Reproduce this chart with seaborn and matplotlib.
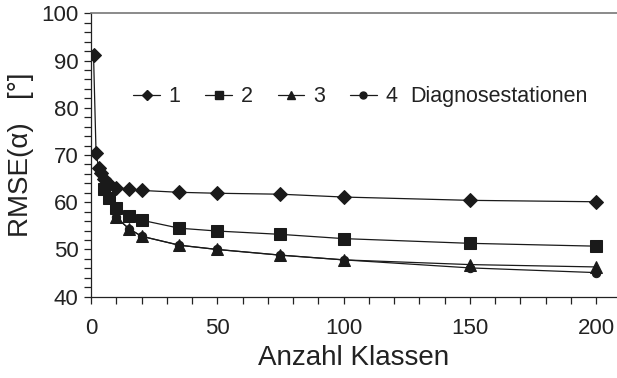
import matplotlib
matplotlib.use("Agg")
import matplotlib.pyplot as plt
import seaborn as sns
import numpy as np
from matplotlib.lines import Line2D
from matplotlib.ticker import MultipleLocator

# Data
x1 = [1, 2, 3, 4, 5, 7, 10, 15, 20, 35, 50, 75, 100, 150, 200]
y1 = [91.2, 70.5, 67.3, 66.1, 65.0, 63.8, 63.1, 62.8, 62.5, 62.1, 61.9, 61.7, 61.1, 60.4, 60.1]
x2 = [5, 7, 10, 15, 20, 35, 50, 75, 100, 150, 200]
y2 = [62.8, 60.8, 58.8, 57.1, 56.2, 54.5, 53.9, 53.2, 52.3, 51.3, 50.7]
x3 = [10, 15, 20, 35, 50, 75, 100, 150, 200]
y3 = [56.8, 54.4, 52.8, 50.9, 50.0, 48.8, 47.8, 46.8, 46.3]
x4 = [10, 15, 20, 35, 50, 75, 100, 150, 200]
y4 = [56.8, 54.4, 52.8, 50.9, 50.0, 48.8, 47.8, 46.1, 45.1]
labels = ["1", "2", "3", "4"]
extra_label = "Diagnosestationen"
x_ticks = [0, 50, 100, 150, 200]
y_ticks = [40, 50, 60, 70, 80, 90, 100]

sns.set_style("ticks")
plt.rcParams['font.family'] = ['Liberation Sans', 'DejaVu Sans']

fig = plt.figure(figsize=(6.17, 3.78), dpi=100)
ax = fig.add_axes([91/617, 1-296.7/378, 1-91/617, (296.7-13.3)/378])

series = [(x4, y4, 'o', 6, 2), (x1, y1, 'D', 7, 3), (x2, y2, 's', 8, 3), (x3, y3, '^', 8.5, 4)]
for xs, ys, mk, ms, z in series:
    sns.lineplot(x=xs, y=ys, ax=ax, color='#1a1a1a', lw=0.9, marker=mk,
                 markersize=ms, markeredgecolor='#1a1a1a', markerfacecolor='#1a1a1a',
                 zorder=z, estimator=None, sort=False)

ax.set_xlim(0, 208.3)
ax.set_ylim(40, 100)
ax.set_xticks(x_ticks)
ax.set_yticks(y_ticks)
ax.xaxis.set_minor_locator(MultipleLocator(10))
ax.yaxis.set_minor_locator(MultipleLocator(2))
ax.tick_params(axis='both', which='both', direction='out', length=5, width=0.9, colors='#222222',
               labelsize=16, labelcolor='#222222')
ax.tick_params(axis='x', which='major', pad=10)
ax.tick_params(axis='y', which='major', pad=4)

for s in ['left', 'bottom']:
    ax.spines[s].set_color('#222222')
    ax.spines[s].set_linewidth(0.9)
ax.spines['right'].set_visible(False)
ax.spines['top'].set_visible(True)
ax.spines['top'].set_color('#777777')
ax.spines['top'].set_linewidth(1.2)

ax.set_xlabel("Anzahl Klassen", fontsize=20, color='#222222', labelpad=5)
ax.set_ylabel("RMSE(\u03b1)   [\u00b0]", fontsize=20, color='#222222', labelpad=5)

handles = [Line2D([0], [0], color='#1a1a1a', lw=0.9, marker=m, markersize=s,
                  markerfacecolor='#1a1a1a', markeredgecolor='#1a1a1a')
           for m, s in zip(['D', 's', '^', 'o'], [5, 6, 6, 5])]
leg = ax.legend(handles, labels, ncol=4, frameon=False, fontsize=15.5,
                loc='center left', bbox_to_anchor=(0.08, 0.705),
                borderpad=0, borderaxespad=0,
                handlelength=1.25, handletextpad=0.4, columnspacing=1.15,
                labelcolor='#222222')
ax.text(0.606, 0.705, extra_label, transform=ax.transAxes, fontsize=15.5,
        color='#222222', va='center', ha='left')

fig.savefig("out.png", dpi=100)
